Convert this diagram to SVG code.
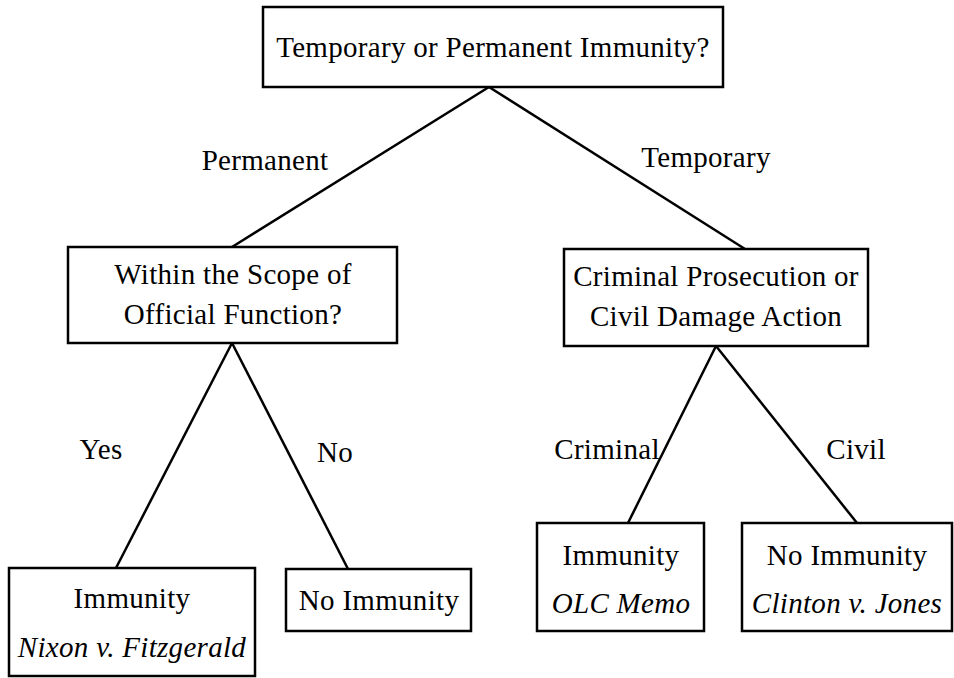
<svg xmlns="http://www.w3.org/2000/svg" width="954" height="678" viewBox="0 0 954 678">
<style>
.box{fill:#fff;stroke:#000;stroke-width:2.5}
.t{font-family:"Liberation Serif","Times New Roman",serif;font-size:29px;letter-spacing:0.3px;fill:#000;text-anchor:middle;dominant-baseline:central}
.i{font-style:italic}
.c{stroke:#000;stroke-width:2.5;fill:none}
</style>
<rect width="954" height="678" fill="#fff"/>
<g id="connectors">
<line class="c" x1="489" y1="87" x2="232" y2="247"/>
<line class="c" x1="489" y1="87" x2="745" y2="249"/>
<line class="c" x1="232" y1="343" x2="116" y2="568"/>
<line class="c" x1="232" y1="343" x2="348" y2="569"/>
<line class="c" x1="716" y1="346" x2="628" y2="523"/>
<line class="c" x1="716" y1="346" x2="857" y2="523"/>
<text class="t" x="265" y="160">Permanent</text>
<text class="t" x="706" y="157">Temporary</text>
<text class="t" x="101" y="449">Yes</text>
<text class="t" x="335" y="452">No</text>
<text class="t" x="607" y="449">Criminal</text>
<text class="t" x="856" y="449">Civil</text>
</g>
<g id="root">
<rect class="box" x="263" y="7" width="460" height="80"/>
<text class="t" x="493" y="47">Temporary or Permanent Immunity?</text>
</g>
<g id="scope">
<rect class="box" x="68" y="247" width="329" height="96"/>
<text class="t" x="233" y="274">Within the Scope of</text>
<text class="t" x="233" y="314">Official Function?</text>
</g>
<g id="action">
<rect class="box" x="564" y="249" width="304" height="97"/>
<text class="t" x="716" y="276">Criminal Prosecution or</text>
<text class="t" x="716" y="316">Civil Damage Action</text>
</g>
<g id="nixon">
<rect class="box" x="9" y="568" width="246" height="108"/>
<text class="t" x="132" y="598">Immunity</text>
<text class="t i" x="132" y="647">Nixon v. Fitzgerald</text>
</g>
<g id="noimm">
<rect class="box" x="286" y="569" width="185" height="62"/>
<text class="t" x="379" y="600">No Immunity</text>
</g>
<g id="olc">
<rect class="box" x="537" y="523" width="167" height="108"/>
<text class="t" x="621" y="555">Immunity</text>
<text class="t i" x="621" y="603">OLC Memo</text>
</g>
<g id="clinton">
<rect class="box" x="742" y="523" width="210" height="108"/>
<text class="t" x="847" y="555">No Immunity</text>
<text class="t i" x="847" y="603">Clinton v. Jones</text>
</g>
</svg>
